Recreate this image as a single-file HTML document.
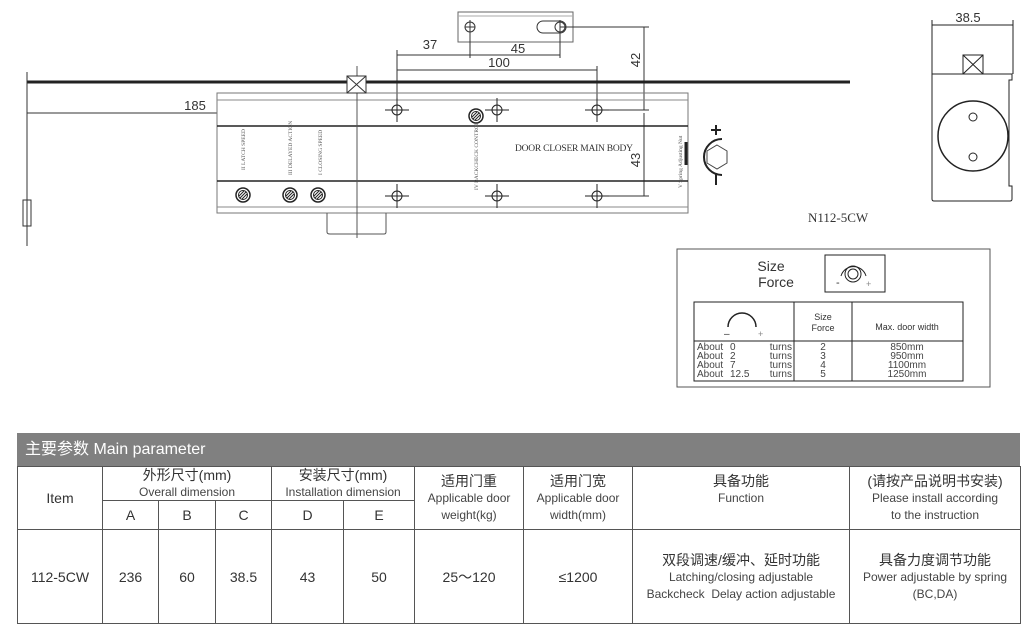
<!DOCTYPE html>
<html><head><meta charset="utf-8"><style>
body{margin:0;width:1024px;height:625px;background:#fff;overflow:hidden;position:relative;font-family:"Liberation Sans","Noto Sans CJK SC",sans-serif;}
svg{position:absolute;left:0;top:0}
table{position:absolute;left:17px;top:466px;width:1003px;border-collapse:collapse;table-layout:fixed;color:#333}
td{border:1px solid #555;text-align:center;padding:0;font-size:14px;line-height:16px;overflow:hidden}
.hd{position:absolute;left:17px;top:433px;width:1003px;height:33px;background:#808080;color:#fff;font-size:16px;line-height:33px;text-indent:8px}
small{font-size:12px;color:#444}
</style></head><body>
<svg width="1024" height="433" viewBox="0 0 1024 433" font-family="Liberation Sans, sans-serif">
<defs>
<g id="h" stroke="#222" fill="none"><circle r="5"/><path d="M-12 0 H12 M0 -12 V12"/></g>
<g id="s" stroke="#222" fill="none"><circle r="7" stroke-width="1.5"/><circle r="4.5"/><path d="M-3 3 L3 -3 M-4 1 L1 -4 M-1 4 L4 -1"/></g>
</defs>
<g stroke="#333" fill="none" stroke-width="1">
<rect x="458" y="12" width="115" height="30" stroke="#666"/>
<line x1="458" y1="16" x2="573" y2="16" stroke="#aaa"/>
<circle cx="470" cy="27" r="5"/><line x1="470" y1="20" x2="470" y2="58"/><line x1="465" y1="27" x2="475" y2="27"/>
<path d="M543 21 H560 A6 6 0 0 1 560 33 H543 A6 6 0 0 1 543 21Z"/><circle cx="560" cy="27" r="5"/><line x1="560" y1="20" x2="560" y2="58"/>
<line x1="560" y1="27" x2="649" y2="27"/>
<line x1="397" y1="50" x2="397" y2="112"/>
<line x1="397" y1="55" x2="470" y2="55"/><line x1="470" y1="55" x2="560" y2="55"/>
<line x1="397" y1="70" x2="597" y2="70"/><line x1="597" y1="66" x2="597" y2="112"/>
<line x1="644" y1="27" x2="644" y2="110"/><line x1="644" y1="113" x2="644" y2="196"/>
<line x1="605" y1="110" x2="649" y2="110"/><line x1="605" y1="196" x2="649" y2="196"/>
<line x1="27" y1="82" x2="850" y2="82" stroke="#222" stroke-width="3"/>
<line x1="27" y1="72" x2="27" y2="246"/>
<rect x="23" y="200" width="8" height="26"/>
<line x1="27" y1="113" x2="217" y2="113"/>
<rect x="217" y="93" width="471" height="120" stroke="#777"/>
<line x1="217" y1="100" x2="688" y2="100" stroke="#888"/>
<line x1="217" y1="207" x2="688" y2="207" stroke="#888"/>
<line x1="217" y1="126" x2="688" y2="126" stroke="#222" stroke-width="1.5"/>
<line x1="217" y1="181" x2="688" y2="181" stroke="#222" stroke-width="1.5"/>
<path d="M327 213 V232 Q327 234 330 234 H384 Q386 234 386 232 V213" stroke="#555"/>
<line x1="357" y1="66" x2="357" y2="238" stroke="#555"/>
<rect x="347" y="76" width="19" height="17" fill="#fff"/><path d="M347 76 L366 93 M366 76 L347 93"/>
<line x1="686" y1="142" x2="686" y2="165" stroke="#222" stroke-width="3"/>
</g>
<use href="#h" x="397" y="110"/><use href="#h" x="497" y="110"/><use href="#h" x="597" y="110"/>
<use href="#h" x="397" y="196"/><use href="#h" x="497" y="196"/><use href="#h" x="597" y="196"/>
<use href="#s" x="476" y="116"/><use href="#s" x="243" y="195"/><use href="#s" x="290" y="195"/><use href="#s" x="318" y="195"/>
<g stroke="#222" fill="none">
<polygon points="717,145 727,151 727,163 717,169 707,163 707,151" stroke="#444"/>
<path d="M722 139 A18 18 0 1 0 722 175" stroke-width="2"/>
<path d="M716 125 V135 M711 130 H721 M716 173 V185" stroke-width="2"/>
<line x1="932" y1="20" x2="932" y2="74"/><line x1="1013" y1="20" x2="1013" y2="74"/><line x1="932" y1="25" x2="1013" y2="25"/>
<rect x="963" y="55" width="20" height="19"/><path d="M963 55 L983 74 M983 55 L963 74"/>
<path d="M932 74 H1012 V80 H1009 V186 H1012 V199 Q1012 201 1010 201 H934 Q932 201 932 199 Z"/>
<circle cx="973" cy="136" r="35" stroke-width="1.5"/><circle cx="973" cy="117" r="4"/><circle cx="973" cy="157" r="4"/>
<rect x="677" y="249" width="313" height="138" stroke="#555"/>
<rect x="825" y="255" width="60" height="37"/>
<circle cx="853" cy="274" r="8"/><circle cx="853" cy="274" r="5"/><path d="M841 276 A13 13 0 0 1 866 276"/>
<rect x="694" y="302" width="269" height="79"/>
<line x1="794" y1="302" x2="794" y2="381"/><line x1="852" y1="302" x2="852" y2="381"/><line x1="694" y1="341" x2="963" y2="341"/>
<path d="M728 327 A14 14 0 0 1 756 327" stroke-width="1.5"/>
</g>
<g fill="#333" font-size="13">
<text x="430" y="49" text-anchor="middle">37</text>
<text x="518" y="53" text-anchor="middle">45</text>
<text x="499" y="67" text-anchor="middle">100</text>
<text x="195" y="110" text-anchor="middle">185</text>
<text transform="translate(640 60) rotate(-90)" text-anchor="middle">42</text>
<text transform="translate(640 160) rotate(-90)" text-anchor="middle">43</text>
<text x="968" y="22" text-anchor="middle">38.5</text>
<text x="808" y="222" font-family="Liberation Serif" font-size="13">N112-5CW</text>
<text x="515" y="151" font-family="Liberation Serif" font-size="9.5" textLength="118">DOOR CLOSER MAIN BODY</text>
<g font-family="Liberation Serif" font-size="5.5" fill="#555">
<text transform="translate(245 170) rotate(-90)">II LATCH SPEED</text>
<text transform="translate(292 175) rotate(-90)">III DELAYED ACTION</text>
<text transform="translate(322 175) rotate(-90)">I CLOSING SPEED</text>
<text transform="translate(478 190) rotate(-90)">IV BACKCHECK CONTROL</text>
<text transform="translate(682 188) rotate(-90)">V Spring Adjusting Nut</text>
</g>
<text x="771" y="271" text-anchor="middle" font-size="14">Size</text>
<text x="776" y="287" text-anchor="middle" font-size="14">Force</text>
<text x="836" y="286" font-size="11">-</text><text x="866" y="287" font-size="9" fill="#888">+</text>
<text x="724" y="337" font-size="10">–</text><text x="758" y="337" font-size="9" fill="#888">+</text>
<text x="823" y="320" text-anchor="middle" font-size="9">Size</text>
<text x="823" y="331" text-anchor="middle" font-size="9">Force</text>
<text x="907" y="330" text-anchor="middle" font-size="9">Max. door width</text>
<g font-size="10" fill="#444">
<text x="697" y="350">About</text><text x="697" y="359">About</text><text x="697" y="368">About</text><text x="697" y="377">About</text>
<text x="730" y="350">0</text><text x="730" y="359">2</text><text x="730" y="368">7</text><text x="730" y="377">12.5</text>
<text x="792" y="350" text-anchor="end">turns</text><text x="792" y="359" text-anchor="end">turns</text><text x="792" y="368" text-anchor="end">turns</text><text x="792" y="377" text-anchor="end">turns</text>
<text x="823" y="350" text-anchor="middle">2</text><text x="823" y="359" text-anchor="middle">3</text><text x="823" y="368" text-anchor="middle">4</text><text x="823" y="377" text-anchor="middle">5</text>
<text x="907" y="350" text-anchor="middle">850mm</text><text x="907" y="359" text-anchor="middle">950mm</text><text x="907" y="368" text-anchor="middle">1100mm</text><text x="907" y="377" text-anchor="middle">1250mm</text>
</g>
</g>
</svg>
<div class="hd">主要参数 Main parameter</div>
<table>
<colgroup><col style="width:85px"><col style="width:56px"><col style="width:57px"><col style="width:56px"><col style="width:72px"><col style="width:71px"><col style="width:109px"><col style="width:109px"><col style="width:217px"><col style="width:171px"></colgroup>
<tr style="height:30px"><td rowspan="2">Item</td><td colspan="3">外形尺寸(mm)<br><small>Overall dimension</small></td><td colspan="2">安装尺寸(mm)<br><small>Installation dimension</small></td><td rowspan="2" style="vertical-align:top;padding-top:6px">适用门重<br><small>Applicable door weight(kg)</small></td><td rowspan="2" style="vertical-align:top;padding-top:6px">适用门宽<br><small>Applicable door width(mm)</small></td><td rowspan="2" style="vertical-align:top;padding-top:6px">具备功能<br><small>Function</small></td><td rowspan="2" style="vertical-align:top;padding-top:6px">(请按产品说明书安装)<br><small>Please install according<br>to the instruction</small></td></tr>
<tr style="height:29px"><td>A</td><td>B</td><td>C</td><td>D</td><td>E</td></tr>
<tr style="height:94px"><td>112-5CW</td><td>236</td><td>60</td><td>38.5</td><td>43</td><td>50</td><td>25～120</td><td>≤1200</td><td>双段调速/缓冲、延时功能<br><small>Latching/closing adjustable<br>Backcheck&nbsp; Delay action adjustable</small></td><td>具备力度调节功能<br><small>Power adjustable by spring<br>(BC,DA)</small></td></tr>
</table>
</body></html>
